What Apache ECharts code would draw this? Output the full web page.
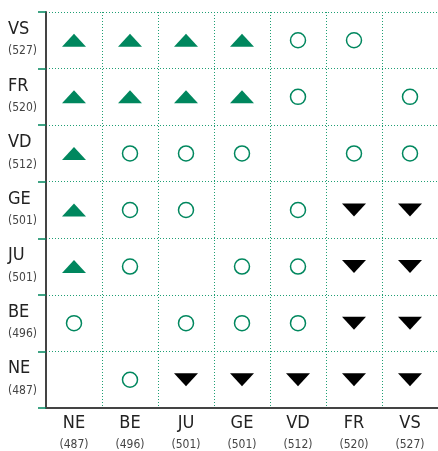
<!DOCTYPE html>
<html>
<head>
<meta charset="utf-8">
<script src="https://cdn.jsdelivr.net/npm/echarts@6/dist/echarts.min.js"></script>
<style>
  html, body { margin: 0; padding: 0; background: #fff; }
  #chart { width: 438px; height: 451px; }
</style>
</head>
<body>
<div id="chart"></div>
<script>
// columns left to right, rows bottom to top (same cantons)
var cantons = ['NE', 'BE', 'JU', 'GE', 'VD', 'FR', 'VS'];
var scores = [487, 496, 501, 501, 512, 520, 527];

// 1 = higher (up), 0 = no difference (circle), -1 = lower (down), null = itself
// one array per row, listed top to bottom, values by column
var rowVS = [1, 1, 1, 1, 0, 0, null];
var rowFR = [1, 1, 1, 1, 0, null, 0];
var rowVD = [1, 0, 0, 0, null, 0, 0];
var rowGE = [1, 0, 0, null, 0, -1, -1];
var rowJU = [1, 0, null, 0, 0, -1, -1];
var rowBE = [0, null, 0, 0, 0, -1, -1];
var rowNE = [null, 0, -1, -1, -1, -1, -1];

var rows = { VS: rowVS, FR: rowFR, VD: rowVD, GE: rowGE, JU: rowJU, BE: rowBE, NE: rowNE };

var green = '#00875e';
var up = [], same = [], down = [];
cantons.forEach(function (r) {
  rows[r].forEach(function (v, i) {
    if (v === 1) up.push([cantons[i], r]);
    else if (v === 0) same.push([cantons[i], r]);
    else if (v === -1) down.push([cantons[i], r]);
  });
});

function label(v) {
  return '{a|' + v + '}\n{b|(' + scores[cantons.indexOf(v)] + ')}';
}

var fontFam = '"Liberation Sans Narrow", "DejaVu Sans Condensed", "Roboto", sans-serif';
var rich = {
  a: { fontSize: 18, lineHeight: 22, color: '#222', fontFamily: fontFam },
  b: { fontSize: 12, lineHeight: 22, color: '#444', fontFamily: fontFam }
};
var dots = { color: '#1f9f74', type: [1, 2], width: 1 };

var chart = echarts.init(document.getElementById('chart'));
chart.setOption({
  animation: false,
  grid: { left: 46, right: -6, top: 12, bottom: 42 },
  xAxis: {
    type: 'category',
    data: cantons,
    axisLine: { lineStyle: { color: '#444', width: 2 } },
    axisTick: { show: false },
    axisLabel: { interval: 0, margin: 4, formatter: label, rich: rich, align: 'center' },
    splitLine: { show: true, interval: 0, lineStyle: dots }
  },
  yAxis: {
    type: 'category',
    data: cantons,
    axisLine: { lineStyle: { color: '#444', width: 2 } },
    axisTick: { show: true, interval: 0, length: 8, lineStyle: { color: green, width: 1.5 } },
    axisLabel: { interval: 0, margin: 38, align: 'left', formatter: label, rich: rich },
    splitLine: { show: true, interval: 0, lineStyle: dots }
  },
  series: [
    {
      type: 'scatter', data: up, symbol: 'triangle', symbolSize: [24, 13],
      itemStyle: { color: green, opacity: 1 }
    },
    {
      type: 'scatter', data: same, symbol: 'circle', symbolSize: 15,
      itemStyle: { color: '#fff', borderColor: green, borderWidth: 1.5, opacity: 1 }
    },
    {
      type: 'scatter', data: down, symbol: 'triangle', symbolSize: [24, 13], symbolRotate: 180,
      itemStyle: { color: '#000', opacity: 1 }
    }
  ]
});
</script>
</body>
</html>
